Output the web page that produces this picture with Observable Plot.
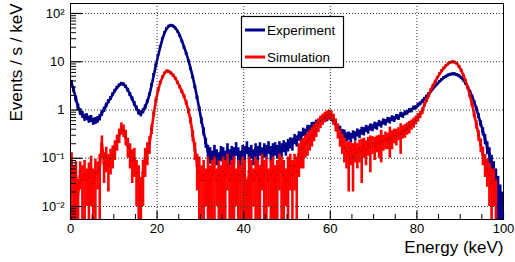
<!DOCTYPE html>
<html><head><meta charset="utf-8">
<script src="https://cdn.jsdelivr.net/npm/d3@7"></script>
<script src="https://cdn.jsdelivr.net/npm/@observablehq/plot@0.6"></script>
<style>
body{margin:0;background:#fff;}
#wrap{position:relative;width:515px;height:262px;font-family:"Liberation Sans",Arial,Helvetica,sans-serif;}
#wrap svg{display:block;}
#leg{position:absolute;left:240px;top:15px;}
</style></head>
<body><div id="wrap"></div>
<script>
// ---- data (0.5 keV bins starting at 0 keV) ----
const binWidth = 0.5;
const seriesNames = ["Experiment", "Simulation"];
const seriesColors = ["#00008f", "#ff0000"];

const expVal = [
3.6,2.6,1.7,1.15,0.92,0.8,0.7,0.72,0.64,0.66,
0.58,0.6,0.63,0.7,0.86,1.02,1.25,1.5,1.75,2.1,
2.5,2.9,3.25,3.5,3.4,3.05,2.6,2.1,1.7,1.35,
1.08,0.9,0.84,0.95,1.15,1.5,2.1,3.3,5.4,8.6,
13.5,20.5,30,40,49,55,57,55,50,43,
35,27,20,15,10.5,7.2,4.8,3.0,1.8,1.05,
0.6,0.36,0.21,0.14,0.12,0.1,0.14,0.11,0.09,0.13,
0.12,0.1,0.15,0.11,0.13,0.12,0.16,0.12,0.1,0.14,
0.13,0.17,0.12,0.14,0.11,0.15,0.13,0.16,0.12,0.15,
0.14,0.17,0.13,0.15,0.16,0.14,0.17,0.15,0.18,0.16,
0.19,0.21,0.2,0.25,0.23,0.29,0.28,0.35,0.33,0.41,
0.4,0.47,0.48,0.54,0.53,0.61,0.6,0.67,0.66,0.71,
0.66,0.6,0.53,0.43,0.39,0.33,0.32,0.28,0.29,0.27,
0.31,0.29,0.34,0.32,0.37,0.36,0.41,0.39,0.44,0.43,
0.48,0.46,0.53,0.5,0.57,0.55,0.62,0.6,0.67,0.64,
0.72,0.7,0.8,0.77,0.86,0.88,0.97,0.98,1.1,1.12,
1.25,1.35,1.5,1.7,1.9,2.15,2.45,2.8,3.15,3.5,
3.9,4.3,4.7,5.0,5.3,5.5,5.6,5.6,5.4,5.1,
4.7,4.2,3.6,3.0,2.4,1.9,1.45,1.05,0.75,0.52,
0.36,0.25,0.17,0.12,0.08,0.055,0.035,0.022,0.014,0.01];

const expErr = [
0.5,0.35,0.25,0.18,0.15,0.13,0.12,0.12,0.11,0.11,
0.1,0.1,0.1,0.11,0.12,0.13,0.14,0.15,0.16,0.18,
0.2,0.22,0.24,0.25,0.25,0.24,0.22,0.2,0.17,0.15,
0.13,0.12,0.12,0.12,0.13,0.15,0.17,0.2,0.25,0.3,
0.4,0.5,0.6,0.7,0.8,0.8,0.8,0.8,0.8,0.7,
0.6,0.55,0.5,0.4,0.35,0.3,0.25,0.2,0.15,0.12,
0.09,0.07,0.05,0.045,0.045,0.04,0.045,0.04,0.04,0.045,
0.045,0.04,0.05,0.04,0.045,0.045,0.05,0.045,0.04,0.045,
0.045,0.05,0.045,0.045,0.04,0.05,0.045,0.05,0.045,0.05,
0.045,0.05,0.045,0.05,0.05,0.045,0.05,0.05,0.05,0.05,
0.055,0.055,0.06,0.06,0.06,0.065,0.065,0.07,0.07,0.075,
0.075,0.08,0.08,0.08,0.085,0.085,0.09,0.09,0.09,0.09,
0.09,0.085,0.08,0.075,0.07,0.065,0.065,0.06,0.06,0.06,
0.06,0.065,0.065,0.065,0.07,0.07,0.07,0.075,0.075,0.075,
0.08,0.08,0.08,0.08,0.085,0.085,0.085,0.09,0.09,0.09,
0.09,0.095,0.1,0.1,0.1,0.1,0.1,0.11,0.11,0.11,
0.12,0.12,0.13,0.13,0.14,0.15,0.16,0.17,0.18,0.18,
0.2,0.2,0.2,0.22,0.22,0.22,0.22,0.22,0.22,0.22,
0.2,0.2,0.18,0.17,0.15,0.14,0.12,0.11,0.1,0.08,
0.07,0.06,0.05,0.045,0.035,0.03,0.025,0.02,0.014,0.01];

const simVal = [
0.06,0.035,0.045,0.018,0.053,0.035,0.045,0.035,0.04,0.06,
0.03,0.05,0.053,0.06,0.2,0.08,0.11,0.07,0.1,0.12,
0.16,0.22,0.3,0.42,0.38,0.28,0.18,0.13,0.09,0.1,
0.05,0.035,0.02,0.05,0.1,0.14,0.2,0.4,0.85,1.6,
2.6,3.7,4.8,5.8,6.4,6.3,5.8,5.2,4.5,3.7,
3.0,2.4,1.9,1.4,0.95,0.6,0.3,0.15,0.071,0.053,
0.035,0.045,0.035,0.053,0.035,0.045,0.053,0.035,0.045,0.035,
0.053,0.045,0.071,0.035,0.045,0.053,0.035,0.045,0.035,0.053,
0.045,0.018,0.053,0.045,0.035,0.053,0.045,0.035,0.071,0.045,
0.053,0.035,0.045,0.053,0.035,0.045,0.071,0.053,0.045,0.035,
0.053,0.071,0.045,0.071,0.053,0.12,0.15,0.16,0.2,0.22,
0.26,0.3,0.36,0.42,0.5,0.58,0.65,0.72,0.78,0.82,
0.78,0.65,0.5,0.38,0.28,0.22,0.17,0.14,0.12,0.14,
0.11,0.15,0.13,0.16,0.14,0.18,0.15,0.19,0.17,0.2,
0.18,0.21,0.2,0.23,0.22,0.25,0.24,0.27,0.26,0.3,
0.29,0.33,0.32,0.36,0.38,0.42,0.45,0.5,0.55,0.62,
0.7,0.8,0.95,1.3,1.6,2.0,2.6,3.2,3.9,4.7,
5.6,6.5,7.4,8.3,9.1,9.7,10.0,9.8,9.2,8.0,
6.6,5.2,4.0,2.9,2.0,1.3,0.8,0.5,0.3,0.19,
0.12,0.08,0.06,0.045,0.03,0.035,0.018,0,0,0];

const simErr = [
0.07,0.035,0.04,0.018,0.031,0.035,0.045,0.025,0.04,0.05,
0.03,0.045,0.031,0.06,0.09,0.05,0.06,0.05,0.055,0.06,
0.07,0.08,0.1,0.12,0.11,0.1,0.08,0.07,0.06,0.06,
0.04,0.035,0.02,0.04,0.06,0.07,0.08,0.09,0.12,0.17,
0.21,0.26,0.29,0.32,0.34,0.33,0.32,0.3,0.28,0.26,
0.23,0.2,0.18,0.16,0.13,0.1,0.08,0.06,0.05,0.053,
0.035,0.045,0.025,0.053,0.035,0.045,0.053,0.025,0.045,0.035,
0.053,0.045,0.05,0.035,0.045,0.053,0.025,0.045,0.035,0.053,
0.045,0.018,0.053,0.045,0.025,0.053,0.045,0.035,0.05,0.045,
0.053,0.025,0.045,0.053,0.035,0.045,0.05,0.053,0.045,0.025,
0.053,0.05,0.045,0.05,0.053,0.08,0.09,0.1,0.1,0.11,
0.12,0.13,0.14,0.15,0.16,0.17,0.17,0.18,0.18,0.18,
0.18,0.17,0.15,0.13,0.11,0.1,0.09,0.08,0.1,0.07,
0.09,0.07,0.07,0.08,0.11,0.08,0.08,0.08,0.12,0.08,
0.09,0.08,0.1,0.15,0.08,0.1,0.09,0.17,0.11,0.1,
0.11,0.1,0.2,0.11,0.12,0.12,0.13,0.12,0.13,0.13,
0.14,0.14,0.15,0.15,0.17,0.19,0.21,0.24,0.26,0.29,
0.31,0.34,0.36,0.38,0.4,0.41,0.42,0.42,0.4,0.38,
0.34,0.3,0.27,0.23,0.19,0.15,0.12,0.1,0.075,0.06,
0.05,0.04,0.035,0.035,0.03,0.025,0.018,0,0,0];

// axis ticks / labels
const xMajor = [0, 20, 40, 60, 80, 100];
const xMinor = [5, 10, 15, 25, 30, 35, 45, 50, 55, 65, 70, 75, 85, 90, 95];
const xGrid = [20, 40, 60, 80];
const yMajor = [0.01, 0.1, 1, 10, 100];
const yLabels = ["10\u207B\u00B2", "10\u207B\u00B9", "1", "10", "10\u00B2"];
const xTitle = "Energy (keV)";
const yTitle = "Events / s / keV";

// ---- chart ----
const W = 515, H = 262, mL = 70, mR = 12, mT = 3, mB = 43;
const yMin = 0.00538, yMax = 161;
const frameW = W - mL - mR, frameH = H - mT - mB;

const yMinor = [];
for (const dec of [0.001, 0.01, 0.1, 1, 10, 100])
  for (let k = 2; k <= 9; k++) { const t = dec * k; if (t > yMin && t < yMax) yMinor.push(t); }

function rows(val, err) {
  return val.map((v, i) => ({
    x0: i * binWidth, x1: (i + 1) * binWidth, xc: (i + 0.5) * binWidth, v,
    lo: Math.max(v - err[i], yMin), hi: Math.min(v + err[i], yMax)
  })).filter(d => d.v > 0);
}
const expRows = rows(expVal, expErr);
const simRows = rows(simVal, simErr);

function histMarks(data, color) {
  return [
    Plot.ruleX(data, {x: "xc", y1: "lo", y2: "hi", stroke: color, strokeWidth: 2.6}),
    Plot.ruleY(data, {y: "v", x1: "x0", x2: "x1", stroke: color, strokeWidth: 3}),
    Plot.line(data, {x: "xc", y: "v", stroke: color, strokeWidth: 2.6})
  ];
}

const chart = Plot.plot({
  width: W, height: H,
  marginLeft: mL, marginRight: mR, marginTop: mT, marginBottom: mB,
  style: {fontFamily: "'Liberation Sans', Arial, Helvetica, sans-serif", fontSize: "13px", background: "white", color: "black", overflow: "visible"},
  x: {domain: [0, 100], axis: null},
  y: {type: "log", domain: [yMin, yMax], axis: null},
  marks: [
    ...histMarks(expRows, seriesColors[0]),
    ...histMarks(simRows, seriesColors[1]),
    Plot.dot(expRows.concat(simRows), {x: "xc", y: "v", r: 0.55, fill: "#000", fillOpacity: 0.75, stroke: null}),
    Plot.ruleX(xGrid, {x: d => d, stroke: "#333", strokeDasharray: "1,2", strokeWidth: 1}),
    Plot.ruleY(yMajor, {y: d => d, stroke: "#333", strokeDasharray: "1,2", strokeWidth: 1}),
    Plot.frame({stroke: "black", strokeWidth: 1}),
    Plot.tickY(yMajor, {y: d => d, insetRight: frameW - 12, stroke: "black", strokeWidth: 1.2}),
    Plot.tickY(yMinor, {y: d => d, insetRight: frameW - 6, stroke: "black", strokeWidth: 1}),
    Plot.tickX(xMajor, {x: d => d, insetTop: frameH - 8, stroke: "black", strokeWidth: 1.2}),
    Plot.tickX(xMinor, {x: d => d, insetTop: frameH - 5, stroke: "black", strokeWidth: 1}),
    Plot.text(yMajor, {y: d => d, text: (d, i) => yLabels[i], frameAnchor: "left", textAnchor: "end", dx: -6, fontSize: 13, fill: "black"}),
    Plot.text(xMajor, {x: d => d, text: d => String(d), frameAnchor: "bottom", lineAnchor: "top", dy: 4, fontSize: 13, fill: "black"}),
    Plot.text([xTitle], {text: d => d, frameAnchor: "bottom-right", textAnchor: "end", lineAnchor: "bottom", dy: 33, fontSize: 17, fill: "black"}),
    Plot.text([yTitle], {text: d => d, frameAnchor: "top-left", textAnchor: "end", lineAnchor: "bottom", rotate: -90, dx: -49, dy: 0, fontSize: 17, fill: "black"})
  ]
});
const wrap = document.getElementById("wrap");
wrap.appendChild(chart);

// legend
const leg = d3.select(wrap).append("svg").attr("id", "leg").attr("width", 106).attr("height", 55);
leg.append("rect").attr("x", 1.5).attr("y", 1.5).attr("width", 102).attr("height", 51)
  .attr("fill", "white").attr("stroke", "black").attr("stroke-width", 1.2);
seriesNames.forEach((name, i) => {
  const yy = 15 + i * 27;
  leg.append("line").attr("x1", 5).attr("x2", 25).attr("y1", yy).attr("y2", yy)
    .attr("stroke", seriesColors[i]).attr("stroke-width", 3);
  leg.append("text").attr("x", 27).attr("y", yy + 5).attr("font-size", 13.5)
    .attr("font-family", "'Liberation Sans', Arial, sans-serif").attr("fill", "black").text(name);
});
</script>
</body></html>
